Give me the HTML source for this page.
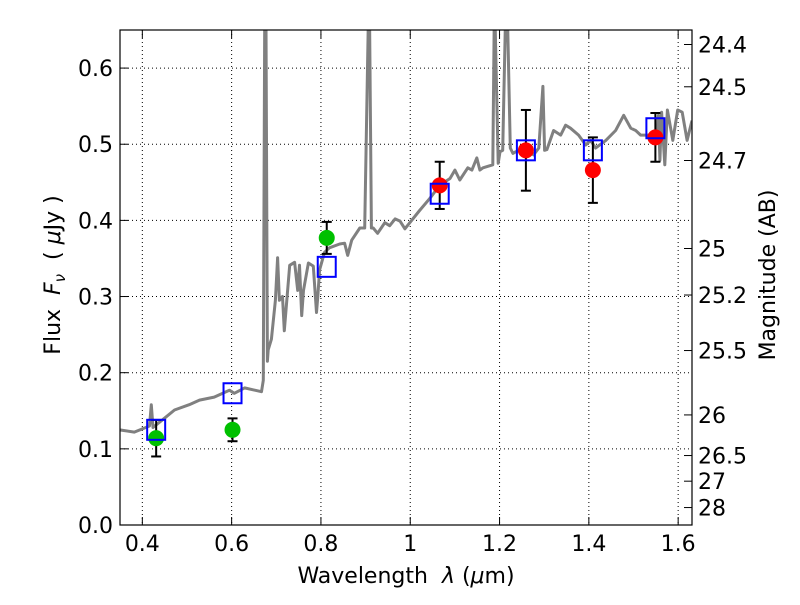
<!DOCTYPE html>
<html><head><meta charset="utf-8"><style>
body{margin:0;background:#fff;}
svg text{font-family:"DejaVu Sans","Liberation Sans",sans-serif;}
</style></head><body>
<svg id="chart" width="800" height="600" xmlns="http://www.w3.org/2000/svg">
<g id="grid"></g>
<g id="spec"></g>
<g id="marks"></g>
<rect x="120" y="30" width="572" height="495" fill="none" stroke="#000" stroke-width="1.2"/>
<g id="axes" font-size="22"></g>
<text x="406" y="583" font-size="22" text-anchor="middle">Wavelength&#160;&#160;<tspan font-style="italic">λ</tspan> (<tspan font-style="italic">μ</tspan>m)</text>
<text transform="translate(60,275) rotate(-90)" font-size="22" text-anchor="middle">Flux&#160;&#160;<tspan font-style="italic">F<tspan font-size="15" dy="5">ν</tspan></tspan><tspan dy="-5">&#160;&#160;(&#160;</tspan><tspan font-style="italic">μ</tspan>Jy&#160;)</text>
<text transform="translate(775,275) rotate(-90)" font-size="22" text-anchor="middle">Magnitude (AB)</text>
</svg>
<script>
const specLam=[0.348,0.382,0.416,0.420,0.424,0.449,0.472,0.505,0.528,0.561,0.595,0.606,0.629,0.667,0.671,0.674,0.677,0.680,0.682,0.689,0.698,0.703,0.707,0.714,0.718,0.730,0.741,0.748,0.752,0.757,0.761,0.772,0.783,0.790,0.793,0.797,0.808,0.819,0.842,0.853,0.860,0.869,0.887,0.898,0.906,0.909,0.913,0.917,0.927,0.943,0.954,0.966,0.977,0.988,0.999,1.021,1.044,1.066,1.089,1.100,1.111,1.129,1.138,1.149,1.156,1.163,1.185,1.188,1.190,1.197,1.201,1.207,1.213,1.218,1.224,1.230,1.236,1.247,1.265,1.276,1.288,1.297,1.301,1.306,1.321,1.337,1.348,1.359,1.377,1.393,1.404,1.415,1.438,1.460,1.478,1.494,1.505,1.516,1.538,1.550,1.556,1.559,1.563,1.570,1.576,1.588,1.599,1.609,1.620,1.631];
const specFlux=[0.125,0.122,0.130,0.158,0.128,0.140,0.151,0.158,0.164,0.168,0.177,0.173,0.180,0.175,0.19,0.66,0.66,0.215,0.23,0.244,0.295,0.351,0.295,0.30,0.255,0.341,0.345,0.308,0.341,0.275,0.308,0.344,0.340,0.279,0.30,0.335,0.358,0.364,0.369,0.370,0.354,0.374,0.390,0.390,0.66,0.66,0.390,0.390,0.383,0.397,0.393,0.402,0.399,0.389,0.397,0.413,0.429,0.446,0.455,0.466,0.453,0.469,0.466,0.482,0.466,0.469,0.473,0.66,0.66,0.475,0.490,0.492,0.66,0.66,0.495,0.488,0.490,0.492,0.493,0.486,0.495,0.576,0.492,0.493,0.518,0.512,0.525,0.521,0.512,0.499,0.505,0.495,0.505,0.518,0.538,0.521,0.518,0.512,0.512,0.505,0.538,0.479,0.542,0.473,0.545,0.505,0.545,0.542,0.505,0.531];
const obsLam=[0.431,0.602,0.813,1.066,1.259,1.409,1.549];
const obsFlux=[0.114,0.125,0.377,0.446,0.492,0.466,0.509];
const obsErr=[0.024,0.015,0.021,0.031,0.053,0.043,0.032];
const obsColor=['#00c000','#00c000','#00c000','#ff0000','#ff0000','#ff0000','#ff0000'];
const modelFlux=[0.125,0.173,0.339,0.435,0.492,0.492,0.521];
const xTicks=[0.4,0.6,0.8,1.0,1.2,1.4,1.6];
const xTickLabels=['0.4','0.6','0.8','1','1.2','1.4','1.6'];
const yTicks=[0,0.1,0.2,0.3,0.4,0.5,0.6];
const yTickLabels=['0.0','0.1','0.2','0.3','0.4','0.5','0.6'];
const magTicks=[24.4,24.5,24.7,25,25.2,25.5,26,26.5,27,28];
const magTickLabels=['24.4','24.5','24.7','25','25.2','25.5','26','26.5','27','28'];

const NS='http://www.w3.org/2000/svg';
const X0=0.35,X1=1.631,Y0=0,Y1=0.65,L=120,R=692,T=30,B=525;
const xs=v=>L+(v-X0)/(X1-X0)*(R-L);
const ys=v=>B-(v-Y0)/(Y1-Y0)*(B-T);
const magToFlux=m=>Math.pow(10,(23.9-m)/2.5);
function mk(tag,attrs,parent){const e=document.createElementNS(NS,tag);for(const k in attrs)e.setAttribute(k,attrs[k]);parent.appendChild(e);return e;}
const grid=document.getElementById('grid'),axes=document.getElementById('axes'),spec=document.getElementById('spec'),marks=document.getElementById('marks');
xTicks.forEach((t,i)=>{const x=xs(t);
 const g=mk('line',{x1:x,x2:x,y1:T,y2:B,stroke:'#000','stroke-dasharray':'1,3','stroke-width':1},grid);
 
 mk('line',{x1:x,x2:x,y1:B,y2:B-8,stroke:'#000'},axes);mk('line',{x1:x,x2:x,y1:T,y2:T+8,stroke:'#000'},axes);
 const tx=mk('text',{x:x,y:B+26,'text-anchor':'middle'},axes);tx.textContent=xTickLabels[i];
 });
yTicks.forEach((t,i)=>{const y=ys(t);
 const g=mk('line',{x1:L,x2:R,y1:y,y2:y,stroke:'#000','stroke-dasharray':'1,3','stroke-width':1},grid);
 
 mk('line',{x1:L,x2:L+8,y1:y,y2:y,stroke:'#000'},axes);
 const tx=mk('text',{x:L-7,y:y+8,'text-anchor':'end'},axes);tx.textContent=yTickLabels[i];
 });
magTicks.forEach((m,i)=>{const y=ys(magToFlux(m));
 mk('line',{x1:R,x2:R-8,y1:y,y2:y,stroke:'#000'},axes);
 const tx=mk('text',{x:R+6,y:y+8,'text-anchor':'start'},axes);tx.textContent=magTickLabels[i];
 });
const clip=mk('clipPath',{id:'pc'},document.getElementById('chart'));mk('rect',{x:L,y:T,width:R-L,height:B-T},clip);
const pts=specLam.map((l,i)=>xs(l).toFixed(1)+','+ys(specFlux[i]).toFixed(1)).join(' ');
const pl=mk('polyline',{points:pts,fill:'none',stroke:'#808080','stroke-width':3,'stroke-linejoin':'round','clip-path':'url(#pc)'},spec);

obsLam.forEach((l,i)=>{const x=xs(l);
 const g=mk('g',{},marks);
 const y1=ys(obsFlux[i]+obsErr[i]),y2=ys(obsFlux[i]-obsErr[i]);
 mk('line',{x1:x,x2:x,y1:y1,y2:y2,stroke:'#000','stroke-width':2},g);
 mk('line',{x1:x-5,x2:x+5,y1:y1,y2:y1,stroke:'#000','stroke-width':2},g);
 mk('line',{x1:x-5,x2:x+5,y1:y2,y2:y2,stroke:'#000','stroke-width':2},g);
 const c=mk('circle',{cx:x,cy:ys(obsFlux[i]),r:8,fill:obsColor[i]},g);
 
 const s=mk('rect',{x:x-9,y:ys(modelFlux[i])-10,width:18,height:20,fill:'none',stroke:'#0000ff','stroke-width':2},g);
 });
</script>
</body></html>
